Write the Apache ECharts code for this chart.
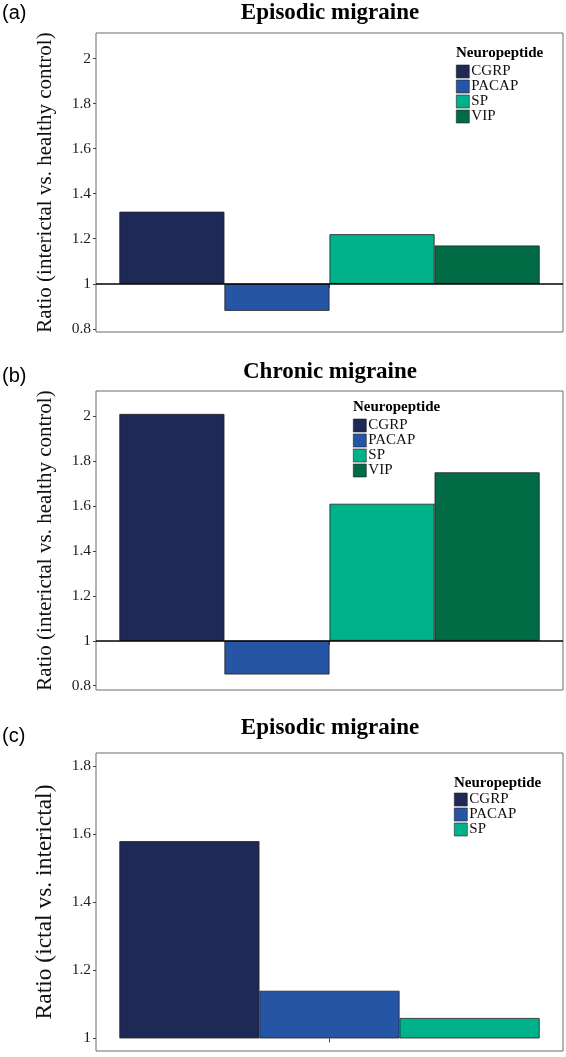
<!DOCTYPE html>
<html>
<head>
<meta charset="utf-8">
<script src="https://cdn.jsdelivr.net/npm/echarts@6/dist/echarts.min.js"></script>
<style>
html,body{margin:0;padding:0;background:#fff;}
#chart{width:566px;height:1057px;}
</style>
</head>
<body>
<div id="chart"></div>
<script>
// ---- data ----
const peptides = ['CGRP', 'PACAP', 'SP', 'VIP'];
const peptidesC = ['CGRP', 'PACAP', 'SP'];
const episodicInterictal = [1.32, 0.88, 1.22, 1.17];   // (a)
const chronicInterictal = [2.01, 0.85, 1.61, 1.75];    // (b)
const episodicIctal = [1.58, 1.14, 1.06];              // (c)
const ticksAB = [0.8, 1, 1.2, 1.4, 1.6, 1.8, 2];
const ticksC = [1, 1.2, 1.4, 1.6, 1.8];
const panelTitles = ['Episodic migraine', 'Chronic migraine', 'Episodic migraine'];
const panelLetters = ['(a)', '(b)', '(c)'];
const yNames = ['Ratio (interictal vs. healthy control)', 'Ratio (interictal vs. healthy control)', 'Ratio (ictal vs. interictal)'];
const legendTitle = 'Neuropeptide';

const colors = {CGRP: '#1e2955', PACAP: '#2655a6', SP: '#00b289', VIP: '#016b45'};
const BASE = 1; // bars drawn from ratio = 1

const serif = 'Liberation Serif';
const sans = 'Liberation Sans';

const panels = [
  {vals: episodicInterictal, names: peptides, ticks: ticksAB, top: 33, height: 299, min: 0.786, max: 2.113, refLine: true, nameSize: 21, nameGap: 40},
  {vals: chronicInterictal, names: peptides, ticks: ticksAB, top: 391, height: 299, min: 0.781, max: 2.112, refLine: true, nameSize: 21, nameGap: 40},
  {vals: episodicIctal, names: peptidesC, ticks: ticksC, top: 753, height: 298, min: 0.963, max: 1.839, refLine: false, nameSize: 23.5, nameGap: 39}
];

const grids = [], xAxes = [], yAxes = [], series = [];
panels.forEach((p, i) => {
  grids.push({left: 96, width: 467, top: p.top, height: p.height, show: true,
    borderColor: '#6a6a6a', borderWidth: 1, backgroundColor: '#fff'});
  xAxes.push({type: 'category', gridIndex: i, data: [''],
    axisLine: {show: false},
    axisTick: {show: true, alignWithLabel: true, length: 4, lineStyle: {color: '#444'}},
    axisLabel: {show: false}, splitLine: {show: false}});
  const shifted = p.ticks.map(t => +(t - BASE).toFixed(4));
  yAxes.push({type: 'value', gridIndex: i,
    min: +(p.min - BASE).toFixed(4), max: +(p.max - BASE).toFixed(4),
    axisLine: {show: false},
    axisTick: {show: true, length: 3, lineStyle: {color: '#444'}, customValues: shifted},
    axisLabel: {show: true, customValues: shifted, margin: 5,
      fontFamily: serif, fontSize: 15.5, color: '#1e1e1e',
      formatter: v => String(parseFloat((v + BASE).toFixed(2)))},
    splitLine: {show: false},
    name: yNames[i], nameLocation: 'middle', nameRotate: 90, nameGap: p.nameGap,
    nameTextStyle: {fontFamily: serif, fontSize: p.nameSize, color: '#111'}});
  p.names.forEach((n, k) => {
    const s = {
      type: 'bar', name: n, xAxisIndex: i, yAxisIndex: i,
      data: [+(p.vals[k] - BASE).toFixed(4)],
      barGap: 0, barCategoryGap: '10%',
      itemStyle: {color: colors[n], borderColor: '#222', borderWidth: 0.8},
      emphasis: {disabled: true}, silent: true, z: 2
    };
    if (k === 0 && p.refLine) {
      s.markLine = {silent: true, symbol: 'none', label: {show: false},
        lineStyle: {color: '#000', width: 1.6, type: 'solid'}, z: 5,
        data: [{yAxis: 0}]};
    }
    series.push(s);
  });
});

const legendPos = [{left: 456, top: 64}, {left: 353, top: 418}, {left: 454, top: 792}];
const legends = panels.map((p, i) => ({
  left: legendPos[i].left, top: legendPos[i].top, orient: 'vertical', padding: 0,
  itemGap: 0, itemWidth: 13, itemHeight: 13, icon: 'rect', selectedMode: false,
  data: p.names,
  itemStyle: {borderWidth: 0.6},
  textStyle: {fontFamily: serif, fontSize: 15, lineHeight: 13, color: '#111', padding: [0, 0, 0, -3]}
}));

const titleY = [13, 372, 728];
const letterY = [13, 376, 736];
const legendTitlePos = [{x: 456, y: 53}, {x: 353, y: 407}, {x: 454, y: 783}];
const graphics = [];
panels.forEach((p, i) => {
  graphics.push({type: 'text', x: 330, y: titleY[i], style: {text: panelTitles[i], font: 'bold 23px ' + serif,
    fill: '#000', textAlign: 'center', textVerticalAlign: 'middle'}});
  graphics.push({type: 'text', x: 2, y: letterY[i], style: {text: panelLetters[i], font: '20px ' + sans,
    fill: '#000', textAlign: 'left', textVerticalAlign: 'middle'}});
  graphics.push({type: 'text', x: legendTitlePos[i].x, y: legendTitlePos[i].y, style: {text: legendTitle,
    font: 'bold 15px ' + serif, fill: '#000', textAlign: 'left', textVerticalAlign: 'middle'}});
});

const chart = echarts.init(document.getElementById('chart'), null, {renderer: 'canvas'});
chart.setOption({
  animation: false,
  backgroundColor: '#fff',
  grid: grids, xAxis: xAxes, yAxis: yAxes, series: series,
  legend: legends, graphic: graphics
});
</script>
</body>
</html>
